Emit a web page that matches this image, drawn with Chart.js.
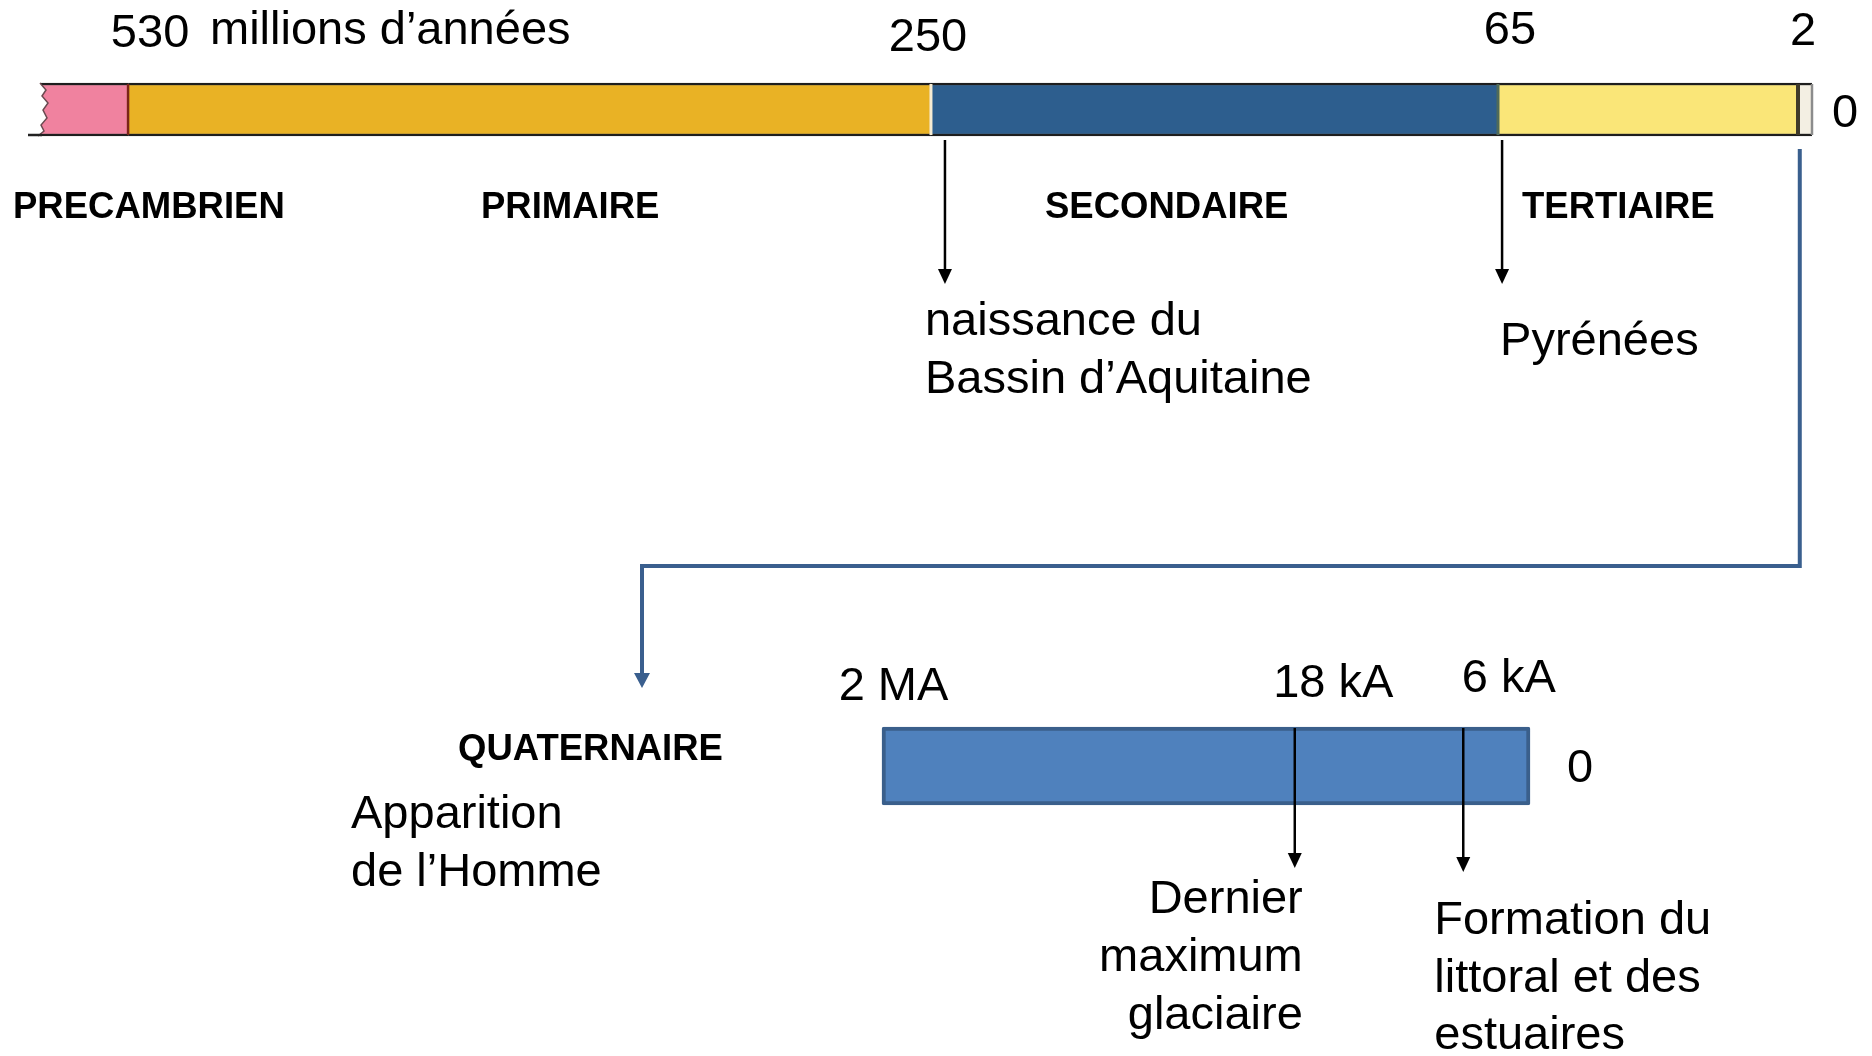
<!DOCTYPE html>
<html lang="fr">
<head>
<meta charset="utf-8">
<title>Frise chronologique</title>
<script src="https://cdn.jsdelivr.net/npm/chart.js@4.4.1/dist/chart.umd.min.js"></script>
<style>
  html, body { margin: 0; padding: 0; background: #ffffff; }
  #cadre { width: 1872px; height: 1056px; }
</style>
</head>
<body>
<div id="cadre"><canvas id="frise" width="1872" height="1056"></canvas></div>
<script>
// Ères et couleurs de la frise du haut
const eres = ["PRECAMBRIEN", "PRIMAIRE", "SECONDAIRE", "TERTIAIRE", "QUATERNAIRE"];
const couleursEres = ["#F0829F", "#E9B225", "#2D5E8E", "#FAE678", "#F3EFE3"];
// Limites des ères le long de la frise (en % de sa longueur)
const limites = [0, 4.97, 50.28, 82.28, 99.21, 100];
// Âges (millions d'années) aux limites 1..5
const ages = ["530", "250", "65", "2", "0"];
// Événements de la frise du haut
const evenementsPos = [51.07, 82.51];
const evenementsTexte = [["naissance du", "Bassin d\u2019Aquitaine"], ["Pyrénées"]];

// Zoom sur le Quaternaire
const quatReperes = [0, 63.7, 89.7, 100];
const quatAges = ["2 MA", "18 kA", "6 kA", "0"];
const quatEvenementsTexte = [["Dernier", "maximum", "glaciaire"], ["Formation du", "littoral et des", "estuaires"]];
const quatTexte = ["Apparition", "de l\u2019Homme"];

// mise en page
const POLICE = '"Liberation Sans", Arial, sans-serif';
const aireG = 40, aireD = 1812;           // étendue de la frise du haut
const quatG = 882, quatD = 1530;          // étendue de la barre du Quaternaire
const uniteQ = (quatD - quatG) / 100;
const hautFrise = 53, hautQuat = 78;

function texte(ctx, s, x, y, police, align) {
  ctx.font = police;
  ctx.textAlign = align || "left";
  ctx.textBaseline = "alphabetic";
  ctx.fillStyle = "#000000";
  ctx.fillText(s, x, y);
}

function fleche(ctx, x, y1, y2, couleur, epaisseur, largeurTete, hauteurTete) {
  ctx.strokeStyle = couleur;
  ctx.fillStyle = couleur;
  ctx.lineWidth = epaisseur;
  ctx.beginPath();
  ctx.moveTo(x, y1);
  ctx.lineTo(x, y2 - hauteurTete + 1);
  ctx.stroke();
  ctx.beginPath();
  ctx.moveTo(x - largeurTete / 2, y2 - hauteurTete);
  ctx.lineTo(x + largeurTete / 2, y2 - hauteurTete);
  ctx.lineTo(x, y2);
  ctx.closePath();
  ctx.fill();
}

const annotations = {
  id: "annotations",
  afterDatasetsDraw(chart) {
    const ctx = chart.ctx;
    const x = chart.scales.x;
    const yc = chart.scales.y.getPixelForValue(0);
    const haut = yc - hautFrise / 2, bas = yc + hautFrise / 2;
    ctx.save();
    // séparations entre les ères
    const sep = [
      null,
      { c: "#7A2418", w: 2.5 },
      { c: "#F6EBD2", w: 3 },
      { c: "#4E6A5A", w: 3 },
      { c: "#3F3A2A", w: 4 },
      { c: "#8C8C8C", w: 2.5 }
    ];
    for (let i = 1; i < limites.length; i++) {
      const px = x.getPixelForValue(limites[i]);
      ctx.strokeStyle = sep[i].c;
      ctx.lineWidth = sep[i].w;
      ctx.beginPath();
      ctx.moveTo(px, haut + 1);
      ctx.lineTo(px, bas - 1);
      ctx.stroke();
    }
    // bord gauche déchiré
    const g = x.getPixelForValue(limites[0]);
    const zig = [[0, 0], [6, 7], [2, 13], [8, 20], [3, 27], [7, 35], [1, 42], [4, 48], [-2, 53]];
    ctx.fillStyle = "#ffffff";
    ctx.beginPath();
    ctx.moveTo(g - 20, haut - 3);
    ctx.lineTo(g, haut - 3);
    zig.forEach(p => ctx.lineTo(g + p[0], haut + p[1]));
    ctx.lineTo(g - 12, bas + 3);
    ctx.lineTo(g - 20, bas + 3);
    ctx.closePath();
    ctx.fill();
    ctx.strokeStyle = "#6A4A50";
    ctx.lineWidth = 1.5;
    ctx.beginPath();
    zig.forEach((p, i) => i ? ctx.lineTo(g + p[0], haut + p[1]) : ctx.moveTo(g + p[0], haut + p[1]));
    ctx.stroke();
    ctx.strokeStyle = "#222222";
    ctx.lineWidth = 2.5;
    ctx.beginPath();
    ctx.moveTo(g - 12, bas - 1);
    ctx.lineTo(g + 2, bas - 1);
    ctx.stroke();
    ctx.restore();
  },
  afterDraw(chart) {
    const ctx = chart.ctx;
    const x = chart.scales.x, xq = chart.scales.xq, y = chart.scales.y;
    const yc = y.getPixelForValue(0), yq = y.getPixelForValue(1);
    const bas = yc + hautFrise / 2;
    const normal = "47px " + POLICE;
    const gras = "bold 36.5px " + POLICE;
    ctx.save();

    // âges au-dessus de la frise
    const decalAges = [22, -3, 12, 5, 33];
    const ligneAges = [47, 51, 44, 45, yc + 17];
    ages.forEach((a, i) => {
      texte(ctx, a, x.getPixelForValue(limites[i + 1]) + decalAges[i], ligneAges[i], normal, "center");
    });
    texte(ctx, "millions d\u2019années", 210, 44, normal);

    // noms des ères
    const posEres = [13, 481, 1045, 1522];
    posEres.forEach((px, i) => texte(ctx, eres[i], px, 218, gras));

    // événements de la frise du haut
    const decalTexte = [-20, -2];
    const ligneTexte = [335, 355];
    evenementsPos.forEach((p, i) => {
      const px = x.getPixelForValue(p);
      fleche(ctx, px, bas + 4, 284, "#000000", 2.5, 14, 15);
      evenementsTexte[i].forEach((l, k) => texte(ctx, l, px + decalTexte[i], ligneTexte[i] + k * 58, normal));
    });

    // liaison vers le zoom du Quaternaire
    const xc = x.getPixelForValue(limites[4] + 0.1);
    const xf = 642, yh = 566;
    ctx.strokeStyle = "#3A5F8E";
    ctx.lineWidth = 4;
    ctx.lineJoin = "miter";
    ctx.beginPath();
    ctx.moveTo(xc, bas + 13);
    ctx.lineTo(xc, yh);
    ctx.lineTo(xf, yh);
    ctx.lineTo(xf, 674);
    ctx.stroke();
    fleche(ctx, xf, 670, 688, "#3A5F8E", 4, 16, 15);

    // Quaternaire
    texte(ctx, eres[4], 458, 760, gras);
    quatTexte.forEach((l, k) => texte(ctx, l, 351, 828 + k * 58, normal));

    const decalQ = [11.5, 38.5, 45.5, 50];
    const ligneQ = [700, 697, 692, yq + 16];
    quatAges.forEach((a, i) => {
      texte(ctx, a, xq.getPixelForValue(quatReperes[i]) + decalQ[i], ligneQ[i], normal, "center");
    });

    const hautQ = yq - hautQuat / 2;
    const pointes = [868, 872];
    [1, 2].forEach((r, i) => {
      const px = xq.getPixelForValue(quatReperes[r]);
      fleche(ctx, px, hautQ + 1, pointes[i], "#000000", 2.5, 14, 15);
      const lignes = quatEvenementsTexte[i];
      if (i === 0) {
        lignes.forEach((l, k) => texte(ctx, l, px + 8, 913 + k * 58, normal, "right"));
      } else {
        lignes.forEach((l, k) => texte(ctx, l, px - 29, 934 + k * 57.5, normal));
      }
    });
    ctx.restore();
  }
};

new Chart(document.getElementById("frise"), {
  type: "bar",
  data: {
    labels: ["frise", "quaternaire"],
    datasets: [
      {
        label: "Ères",
        xAxisID: "x",
        data: eres.map((e, i) => ({ x: [limites[i], limites[i + 1]], y: "frise" })),
        backgroundColor: couleursEres,
        borderColor: "#1E1E1E",
        borderWidth: { top: 2.5, bottom: 2.5, left: 0, right: 0 },
        borderSkipped: false,
        barThickness: hautFrise,
        clip: false
      },
      {
        label: "Quaternaire",
        xAxisID: "xq",
        data: [{ x: [quatReperes[0], quatReperes[quatReperes.length - 1]], y: "quaternaire" }],
        backgroundColor: "#4F81BD",
        borderColor: "#3A5F8B",
        borderWidth: 4,
        borderRadius: 2,
        borderSkipped: false,
        barThickness: hautQuat,
        clip: false
      }
    ]
  },
  options: {
    indexAxis: "y",
    responsive: false,
    animation: false,
    devicePixelRatio: 1,
    layout: { padding: { left: aireG, right: 1872 - aireD, top: 109.5, bottom: 290 } },
    datasets: { bar: { grouped: false } },
    scales: {
      y: { type: "category", offset: false, display: false },
      x: { type: "linear", min: 0, max: 100, display: false },
      xq: {
        type: "linear",
        display: false,
        min: -(quatG - aireG) / uniteQ,
        max: 100 + (aireD - quatD) / uniteQ
      }
    },
    plugins: { legend: { display: false }, tooltip: { enabled: false } }
  },
  plugins: [annotations]
});
</script>
</body>
</html>
